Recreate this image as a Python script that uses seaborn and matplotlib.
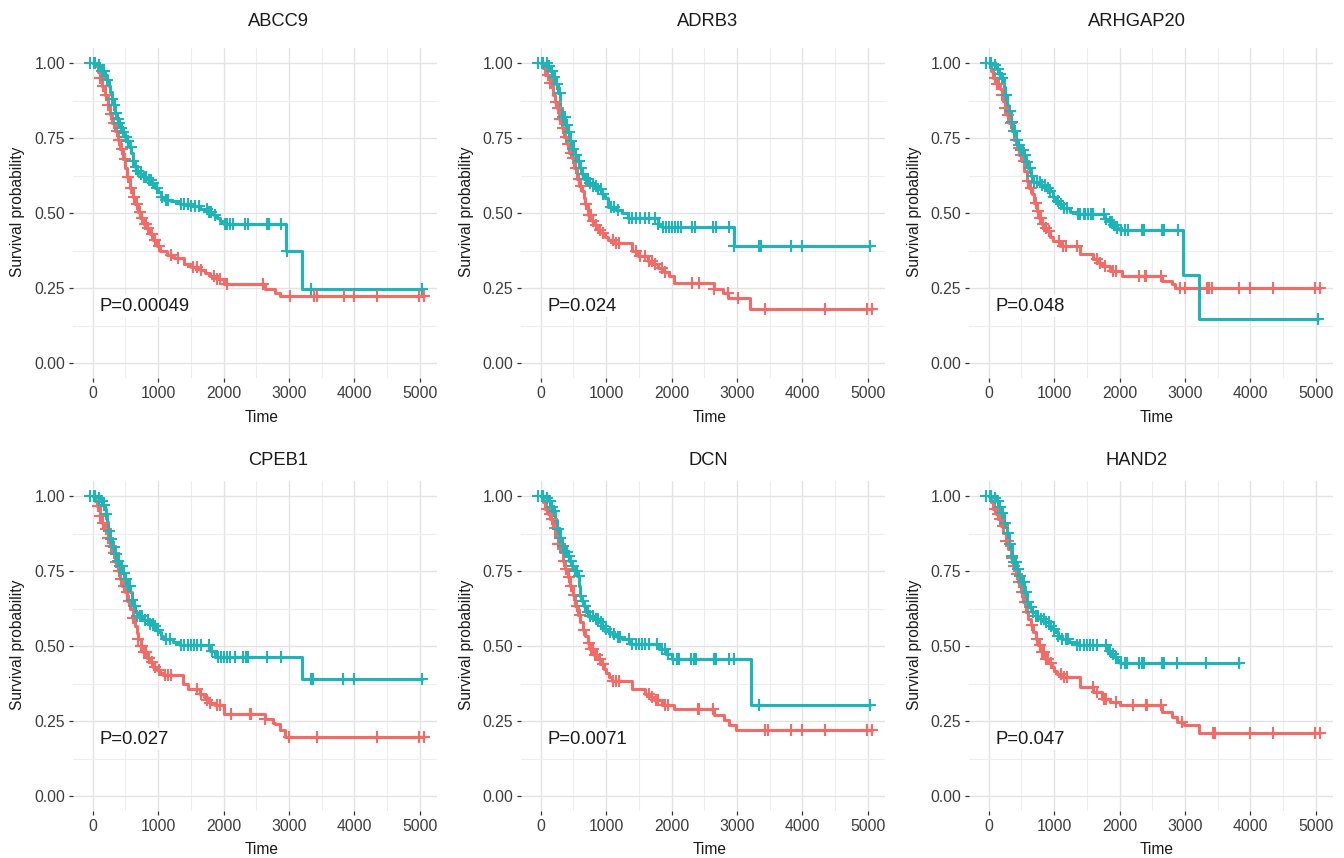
import numpy as np
import pandas as pd
import matplotlib
matplotlib.use("Agg")
import matplotlib.pyplot as plt
import seaborn as sns
from matplotlib.ticker import MultipleLocator

# ---------------- data ----------------
genes = ["ABCC9", "ADRB3", "ARHGAP20", "CPEB1", "DCN", "HAND2"]
pvals = ["P=0.00049", "P=0.024", "P=0.048", "P=0.027", "P=0.0071", "P=0.047"]
groups = ["High", "Low"]
group_colors = {"High": "#F36B66", "Low": "#1DB5B7"}

# ABCC9
abcc9_high_t = [0, 40, 80, 110, 150, 190, 230, 265, 300, 340, 380, 420, 460, 495, 530, 570, 610, 650, 690, 725, 780, 830, 880, 930, 980, 1030, 1130, 1250, 1390, 1500, 1640, 1720, 1800, 1900, 2000, 2640, 2780, 2860, 5060]
abcc9_high_s = [1.0, 0.99, 0.97, 0.95, 0.925, 0.895, 0.86, 0.83, 0.80, 0.775, 0.745, 0.715, 0.68, 0.65, 0.62, 0.585, 0.555, 0.53, 0.505, 0.485, 0.465, 0.45, 0.43, 0.41, 0.39, 0.375, 0.36, 0.35, 0.33, 0.32, 0.31, 0.30, 0.29, 0.28, 0.265, 0.247, 0.235, 0.222, 0.222]
abcc9_high_c = [120, 160, 200, 240, 280, 330, 370, 410, 450, 490, 540, 580, 630, 680, 720, 760, 800, 820, 850, 900, 960, 1010, 1200, 1300, 1530, 1600, 1650, 1850, 1900, 1950, 2050, 2610, 3020, 3380, 3430, 3840, 3990, 4350, 4990, 5060]
abcc9_low_t = [0, 60, 110, 150, 190, 215, 245, 270, 300, 320, 345, 370, 400, 430, 460, 500, 530, 560, 590, 615, 640, 670, 720, 780, 840, 900, 960, 1000, 1050, 1090, 1200, 1330, 1500, 1640, 1780, 1850, 1900, 1950, 2000, 2960, 3200, 5040]
abcc9_low_s = [1.0, 0.995, 0.985, 0.975, 0.96, 0.945, 0.925, 0.905, 0.88, 0.86, 0.835, 0.815, 0.80, 0.785, 0.77, 0.755, 0.74, 0.72, 0.70, 0.675, 0.655, 0.64, 0.63, 0.62, 0.61, 0.60, 0.585, 0.57, 0.555, 0.545, 0.54, 0.53, 0.525, 0.515, 0.505, 0.495, 0.485, 0.475, 0.465, 0.372, 0.248, 0.248]
abcc9_low_c = [-40, 20, 40, 100, 150, 180, 220, 300, 330, 360, 380, 410, 440, 470, 510, 540, 580, 620, 660, 700, 740, 780, 820, 860, 890, 930, 980, 1060, 1120, 1150, 1350, 1400, 1450, 1500, 1570, 1620, 1750, 1780, 1810, 1870, 2030, 2060, 2100, 2140, 2330, 2370, 2660, 2700, 2880, 2965, 3330, 5040]

# ADRB3
adrb3_high_t = [0, 40, 66, 143, 194, 220, 245, 280, 321, 360, 398, 435, 474, 510, 551, 590, 628, 660, 679, 730, 780, 832, 880, 934, 990, 1036, 1112, 1393, 1495, 1648, 1720, 1801, 1880, 1954, 2031, 2643, 2780, 2870, 3204, 5060]
adrb3_high_s = [1.0, 0.985, 0.96, 0.935, 0.895, 0.87, 0.85, 0.815, 0.785, 0.755, 0.73, 0.70, 0.685, 0.65, 0.615, 0.59, 0.575, 0.55, 0.53, 0.495, 0.475, 0.46, 0.445, 0.435, 0.42, 0.41, 0.40, 0.375, 0.357, 0.34, 0.33, 0.318, 0.305, 0.29, 0.268, 0.246, 0.232, 0.218, 0.18, 0.18]
adrb3_high_c = [110, 150, 180, 230, 260, 300, 340, 380, 420, 460, 500, 540, 580, 620, 700, 740, 770, 800, 850, 900, 950, 1100, 1150, 1200, 1450, 1520, 1600, 1650, 1700, 1750, 1850, 1900, 2320, 2420, 2650, 2860, 3020, 3430, 4350, 4990, 5060]
adrb3_low_t = [0, 100, 150, 200, 230, 260, 296, 330, 372, 410, 449, 490, 525, 560, 600, 630, 660, 730, 800, 880, 940, 985, 1036, 1150, 1240, 1340, 1800, 1850, 2950, 5040]
adrb3_low_s = [1.0, 0.99, 0.975, 0.955, 0.93, 0.90, 0.85, 0.82, 0.795, 0.77, 0.74, 0.715, 0.695, 0.675, 0.65, 0.63, 0.615, 0.60, 0.59, 0.58, 0.565, 0.55, 0.52, 0.51, 0.50, 0.485, 0.465, 0.455, 0.39, 0.39]
adrb3_low_c = [-40, 20, 40, 90, 130, 170, 210, 250, 290, 340, 370, 400, 430, 460, 500, 540, 580, 620, 650, 690, 720, 760, 800, 840, 880, 920, 960, 1080, 1120, 1180, 1350, 1400, 1450, 1520, 1600, 1650, 1750, 1800, 1870, 1920, 1960, 2000, 2050, 2100, 2150, 2320, 2360, 2640, 2680, 2880, 2960, 3330, 3370, 3830, 3990, 5040]

# ARHGAP20
arhgap20_high_t = [0, 40, 71, 130, 173, 200, 224, 250, 275, 315, 352, 390, 429, 465, 505, 545, 582, 620, 658, 700, 735, 775, 811, 850, 888, 940, 990, 1092, 1398, 1602, 1680, 1730, 1857, 2036, 2643, 2796, 2847, 5060]
arhgap20_high_s = [1.0, 0.975, 0.95, 0.93, 0.915, 0.895, 0.873, 0.85, 0.828, 0.80, 0.773, 0.745, 0.717, 0.695, 0.673, 0.64, 0.606, 0.585, 0.562, 0.535, 0.507, 0.485, 0.462, 0.45, 0.44, 0.42, 0.407, 0.39, 0.363, 0.346, 0.335, 0.324, 0.307, 0.29, 0.274, 0.263, 0.249, 0.249]
arhgap20_high_c = [90, 130, 160, 210, 250, 300, 340, 380, 420, 460, 500, 540, 600, 640, 720, 760, 780, 800, 830, 870, 920, 1080, 1130, 1180, 1350, 1650, 1700, 1780, 1900, 1950, 2290, 2390, 2410, 2640, 2930, 3000, 3330, 3370, 3420, 3830, 3990, 4350, 4990, 5060]
arhgap20_low_t = [0, 80, 122, 160, 199, 230, 250, 280, 301, 340, 378, 415, 454, 490, 531, 570, 607, 645, 684, 786, 880, 939, 980, 1015, 1080, 1143, 1250, 1347, 1781, 1850, 1908, 1960, 2010, 2969, 3209, 5030]
arhgap20_low_s = [1.0, 0.995, 0.98, 0.965, 0.95, 0.92, 0.895, 0.86, 0.84, 0.805, 0.775, 0.745, 0.728, 0.71, 0.695, 0.67, 0.65, 0.625, 0.605, 0.595, 0.585, 0.573, 0.555, 0.54, 0.53, 0.518, 0.505, 0.496, 0.479, 0.47, 0.46, 0.45, 0.442, 0.293, 0.146, 0.146]
arhgap20_low_c = [-40, 20, 40, 100, 140, 180, 210, 270, 320, 350, 380, 410, 440, 470, 500, 530, 560, 590, 630, 660, 700, 740, 780, 820, 860, 900, 940, 1000, 1060, 1100, 1150, 1200, 1360, 1400, 1450, 1480, 1520, 1560, 1600, 1760, 1800, 1850, 1880, 1920, 1960, 2030, 2080, 2130, 2340, 2370, 2650, 2680, 2900, 5030]

# CPEB1
cpeb1_high_t = [0, 30, 61, 112, 150, 189, 230, 265, 300, 342, 380, 418, 455, 495, 530, 571, 610, 648, 675, 699, 740, 776, 830, 878, 930, 980, 1030, 1082, 1388, 1464, 1643, 1700, 1745, 1800, 1872, 2000, 2638, 2750, 2791, 2867, 2944, 5060]
cpeb1_high_s = [1.0, 0.985, 0.967, 0.934, 0.91, 0.889, 0.86, 0.834, 0.81, 0.779, 0.75, 0.723, 0.70, 0.679, 0.65, 0.623, 0.595, 0.568, 0.545, 0.524, 0.50, 0.48, 0.46, 0.446, 0.43, 0.419, 0.41, 0.402, 0.374, 0.357, 0.341, 0.33, 0.319, 0.31, 0.302, 0.274, 0.258, 0.245, 0.241, 0.219, 0.197, 0.197]
cpeb1_high_c = [80, 120, 160, 200, 240, 280, 320, 360, 400, 440, 480, 520, 560, 620, 700, 740, 760, 790, 820, 860, 900, 960, 1010, 1100, 1150, 1200, 1600, 1650, 1750, 1800, 1900, 1950, 2120, 2400, 2420, 2640, 3000, 3430, 4350, 4990, 5060]
cpeb1_low_t = [0, 80, 112, 150, 189, 200, 215, 235, 265, 300, 342, 380, 418, 455, 495, 530, 571, 600, 622, 650, 673, 776, 870, 929, 970, 1005, 1040, 1082, 1235, 1337, 1796, 1872, 3199, 5040]
cpeb1_low_s = [1.0, 0.995, 0.983, 0.97, 0.956, 0.94, 0.915, 0.885, 0.856, 0.83, 0.806, 0.785, 0.767, 0.745, 0.723, 0.70, 0.679, 0.655, 0.635, 0.615, 0.60, 0.588, 0.575, 0.568, 0.555, 0.546, 0.535, 0.524, 0.513, 0.502, 0.485, 0.465, 0.389, 0.389]
cpeb1_low_c = [-40, 20, 40, 100, 140, 170, 210, 250, 280, 330, 360, 390, 420, 450, 480, 510, 540, 570, 600, 640, 680, 720, 760, 800, 840, 880, 920, 960, 1000, 1120, 1180, 1350, 1400, 1450, 1500, 1550, 1600, 1650, 1780, 1820, 1920, 1960, 2000, 2050, 2100, 2170, 2300, 2340, 2370, 2660, 2880, 3330, 3370, 3830, 3990, 5040]

# DCN
dcn_high_t = [0, 40, 71, 110, 148, 185, 224, 260, 301, 340, 378, 415, 454, 490, 531, 570, 607, 645, 684, 720, 760, 810, 862, 910, 964, 1000, 1041, 1092, 1398, 1602, 1680, 1730, 1857, 2036, 2648, 2801, 2878, 2980, 5060]
dcn_high_s = [1.0, 0.98, 0.956, 0.94, 0.922, 0.895, 0.867, 0.84, 0.812, 0.785, 0.756, 0.73, 0.701, 0.67, 0.635, 0.605, 0.579, 0.555, 0.535, 0.51, 0.49, 0.47, 0.457, 0.44, 0.424, 0.41, 0.396, 0.385, 0.357, 0.341, 0.33, 0.319, 0.302, 0.289, 0.271, 0.252, 0.238, 0.219, 0.219]
dcn_high_c = [100, 140, 180, 220, 260, 300, 350, 390, 430, 470, 510, 550, 600, 660, 740, 770, 800, 830, 860, 900, 950, 1100, 1150, 1200, 1650, 1700, 1760, 1800, 1900, 1950, 2400, 2420, 2640, 3430, 3470, 3830, 3990, 4350, 4990, 5060]
dcn_low_t = [0, 80, 122, 160, 199, 225, 250, 290, 327, 365, 403, 440, 480, 520, 556, 585, 607, 635, 658, 700, 735, 820, 888, 940, 990, 1040, 1092, 1170, 1245, 1372, 1806, 1908, 2010, 3209, 5040]
dcn_low_s = [1.0, 0.995, 0.983, 0.965, 0.95, 0.92, 0.889, 0.86, 0.834, 0.815, 0.80, 0.785, 0.767, 0.75, 0.734, 0.70, 0.668, 0.65, 0.635, 0.615, 0.601, 0.59, 0.579, 0.568, 0.557, 0.548, 0.54, 0.53, 0.524, 0.507, 0.49, 0.473, 0.457, 0.305, 0.305]
dcn_low_c = [-40, 20, 40, 100, 140, 180, 210, 260, 300, 340, 370, 400, 430, 460, 490, 520, 550, 580, 610, 640, 680, 720, 760, 800, 840, 880, 920, 960, 1000, 1060, 1120, 1180, 1220, 1350, 1400, 1450, 1500, 1550, 1600, 1650, 1780, 1850, 1900, 1950, 2030, 2080, 2120, 2300, 2340, 2370, 2650, 2680, 2880, 2950, 3330, 5040]

# HAND2
hand2_high_t = [0, 40, 71, 110, 148, 185, 224, 260, 301, 340, 378, 415, 454, 490, 531, 570, 607, 645, 684, 720, 760, 810, 862, 910, 964, 1000, 1041, 1117, 1398, 1602, 1730, 1857, 2010, 2648, 2801, 2878, 2980, 3209, 5060]
hand2_high_s = [1.0, 0.98, 0.956, 0.94, 0.922, 0.90, 0.878, 0.85, 0.823, 0.795, 0.767, 0.74, 0.712, 0.68, 0.646, 0.615, 0.59, 0.57, 0.546, 0.525, 0.502, 0.48, 0.457, 0.445, 0.43, 0.418, 0.407, 0.396, 0.363, 0.346, 0.324, 0.313, 0.302, 0.28, 0.263, 0.247, 0.236, 0.211, 0.211]
hand2_high_c = [100, 140, 180, 220, 260, 300, 350, 390, 430, 470, 510, 550, 600, 660, 740, 780, 810, 840, 870, 900, 950, 1100, 1150, 1200, 1600, 1660, 1760, 1800, 1940, 2200, 2400, 2420, 2640, 2960, 3430, 3460, 3990, 4350, 4990, 5060]
hand2_low_t = [0, 80, 122, 160, 199, 240, 276, 315, 352, 390, 429, 465, 505, 545, 582, 620, 658, 720, 786, 860, 939, 980, 1015, 1060, 1117, 1230, 1347, 1806, 1860, 1908, 1960, 2010, 3830]
hand2_low_s = [1.0, 0.995, 0.983, 0.965, 0.945, 0.91, 0.878, 0.84, 0.80, 0.78, 0.756, 0.735, 0.712, 0.68, 0.646, 0.63, 0.612, 0.60, 0.59, 0.58, 0.568, 0.556, 0.546, 0.535, 0.524, 0.512, 0.502, 0.485, 0.475, 0.463, 0.452, 0.443, 0.443]
hand2_low_c = [-40, 20, 40, 100, 140, 180, 210, 250, 300, 330, 360, 390, 420, 450, 480, 510, 540, 570, 600, 640, 680, 720, 760, 800, 840, 880, 920, 960, 1000, 1060, 1120, 1180, 1220, 1350, 1400, 1450, 1500, 1550, 1600, 1650, 1800, 1850, 1900, 1950, 2030, 2080, 2120, 2300, 2340, 2370, 2650, 2680, 2880, 3320, 3830]

curves = {
    "ABCC9": (abcc9_high_t, abcc9_high_s, abcc9_high_c, abcc9_low_t, abcc9_low_s, abcc9_low_c),
    "ADRB3": (adrb3_high_t, adrb3_high_s, adrb3_high_c, adrb3_low_t, adrb3_low_s, adrb3_low_c),
    "ARHGAP20": (arhgap20_high_t, arhgap20_high_s, arhgap20_high_c, arhgap20_low_t, arhgap20_low_s, arhgap20_low_c),
    "CPEB1": (cpeb1_high_t, cpeb1_high_s, cpeb1_high_c, cpeb1_low_t, cpeb1_low_s, cpeb1_low_c),
    "DCN": (dcn_high_t, dcn_high_s, dcn_high_c, dcn_low_t, dcn_low_s, dcn_low_c),
    "HAND2": (hand2_high_t, hand2_high_s, hand2_high_c, hand2_low_t, hand2_low_s, hand2_low_c),
}

x_ticks = [0, 1000, 2000, 3000, 4000, 5000]
y_ticks = [0.0, 0.25, 0.5, 0.75, 1.0]
y_ticklabels = ["0.00", "0.25", "0.50", "0.75", "1.00"]

# ---------------- figure ----------------
sns.set_theme(style="white")
plt.rcParams["font.family"] = ["Liberation Sans", "DejaVu Sans"]

W, H = 1344, 858
fig = plt.figure(figsize=(W / 100, H / 100), dpi=100)
fig.patch.set_facecolor("white")

col_left = [73, 521, 969]
col_off = [0, 448, 896]
ax_w = 364
row_top = [48, 481]
ax_h = 330
title_x = [278, 708, 1137]
title_y = [22, 460]
xlabel_x = [262, 710, 1157]
xlabel_y = [417, 850]


def step_at(t, s, c):
    t = np.asarray(t, float)
    s = np.asarray(s, float)
    idx = np.searchsorted(t, np.asarray(c, float), side="right") - 1
    idx = np.clip(idx, 0, len(s) - 1)
    return s[idx]


for i, gene in enumerate(genes):
    r, cidx = divmod(i, 3)
    left = col_left[cidx]
    top = row_top[r]
    ax = fig.add_axes([left / W, 1 - (top + ax_h) / H, ax_w / W, ax_h / H])
    ax.set_facecolor("white")

    ht, hs, hc, lt, ls, lc = curves[gene]
    frames = []
    marks = []
    for g, (t, s, c) in zip(groups, [(ht, hs, hc), (lt, ls, lc)]):
        frames.append(pd.DataFrame({"time": t, "surv": s, "group": g}))
        cc = [max(v, 0) for v in c]
        marks.append(pd.DataFrame({"time": c, "surv": step_at(t, s, cc), "group": g}))
    df = pd.concat(frames, ignore_index=True)
    dm = pd.concat(marks, ignore_index=True)

    for g in groups:
        sns.lineplot(data=df[df.group == g], x="time", y="surv", color=group_colors[g],
                     drawstyle="steps-post", estimator=None, sort=False, lw=2.2,
                     ax=ax, legend=False, zorder=3)
        sns.scatterplot(data=dm[dm.group == g], x="time", y="surv", color=group_colors[g],
                        marker="+", s=70, linewidth=1.5, ax=ax, legend=False, zorder=4)

    ax.set_xlim(-300, 5262)
    ax.set_ylim(-0.05, 1.05)
    ax.set_xticks(x_ticks)
    ax.set_xticklabels([str(v) for v in x_ticks])
    ax.set_yticks(y_ticks)
    ax.set_yticklabels(y_ticklabels)
    ax.xaxis.set_minor_locator(MultipleLocator(500))
    ax.yaxis.set_minor_locator(MultipleLocator(0.125))
    ax.grid(which="major", color="#E3E3E3", lw=1.0, zorder=0)
    ax.grid(which="minor", color="#EDEDED", lw=0.8, zorder=0)
    ax.set_axisbelow(True)
    for sp in ax.spines.values():
        sp.set_visible(False)
    ax.tick_params(axis="both", which="major", direction="out", length=3, width=0.9,
                   color="#333333", labelsize=11.3, labelcolor="#3C3C3C", pad=2.5,
                   bottom=True, left=True)
    ax.tick_params(axis="both", which="minor", length=0)
    ax.set_xlabel("")
    ax.set_ylabel("")

    ax.text(110, 0.19, pvals[i], fontsize=13.3, color="#1A1A1A", ha="left", va="center",
            zorder=5, bbox=dict(facecolor="white", edgecolor="none", pad=1.5))

    fig.text(title_x[cidx] / W, 1 - title_y[r] / H, gene, fontsize=13.2, color="#1A1A1A",
             ha="center", va="center")
    fig.text(xlabel_x[cidx] / W, 1 - xlabel_y[r] / H, "Time", fontsize=11.2, color="#1A1A1A",
             ha="center", va="center")
    fig.text((col_off[cidx] + 18) / W, 1 - (top + 164) / H, "Survival probability",
             fontsize=11.2, color="#1A1A1A", rotation=90, ha="center", va="center")

fig.savefig("out.png", dpi=100, facecolor="white")
